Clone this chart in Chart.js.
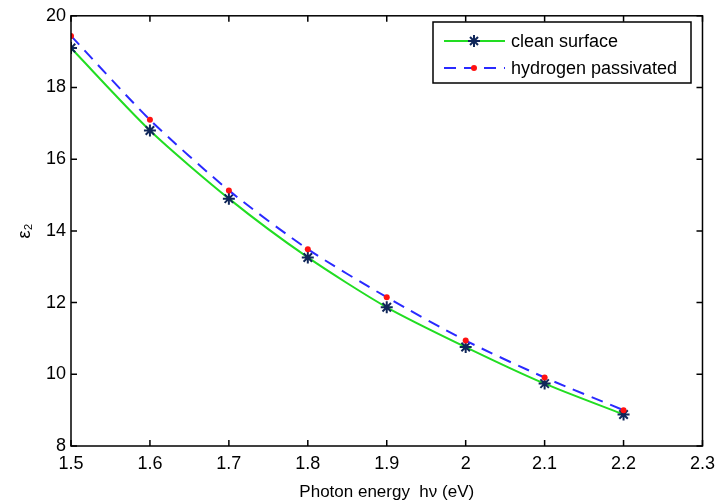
<!DOCTYPE html>
<html>
<head>
<meta charset="utf-8">
<script src="https://cdn.jsdelivr.net/npm/chart.js@4.4.1/dist/chart.umd.min.js"></script>
<style>
  html, body { margin: 0; padding: 0; background: #fff; }
  #wrap { width: 722px; height: 503px; }
</style>
</head>
<body>
<div id="wrap"><canvas id="chart" width="722" height="503"></canvas></div>
<script>
// photon energy (eV)
const energy = [1.5, 1.6, 1.7, 1.8, 1.9, 2.0, 2.1, 2.2];
// epsilon_2 values
const cleanSurface = [19.1, 16.8, 14.9, 13.26, 11.87, 10.76, 9.74, 8.88];
const hydrogenPassivated = [19.44, 17.1, 15.13, 13.49, 12.15, 10.94, 9.91, 9.0];
const xTicks = [1.5, 1.6, 1.7, 1.8, 1.9, 2.0, 2.1, 2.2, 2.3];
const yTicks = [8, 10, 12, 14, 16, 18, 20];

const FONT = 'Liberation Sans, Arial, sans-serif';
const STAR = '#10275a';

// box with inward ticks on all four sides + legend inside
const matlabFrame = {
  id: 'matlabFrame',
  afterDatasetsDraw(chart) {
    const { ctx, chartArea: a, scales } = chart;
    ctx.save();
    ctx.strokeStyle = '#000';
    ctx.lineWidth = 1.5;
    ctx.strokeRect(a.left, a.top, a.right - a.left, a.bottom - a.top);
    const len = 6;
    ctx.beginPath();
    xTicks.forEach(v => {
      const x = scales.x.getPixelForValue(v);
      ctx.moveTo(x, a.bottom); ctx.lineTo(x, a.bottom - len);
      ctx.moveTo(x, a.top); ctx.lineTo(x, a.top + len);
    });
    yTicks.forEach(v => {
      const y = scales.y.getPixelForValue(v);
      ctx.moveTo(a.left, y); ctx.lineTo(a.left + len, y);
      ctx.moveTo(a.right, y); ctx.lineTo(a.right - len, y);
    });
    ctx.stroke();

    // legend
    const bx = 433, by = 22, bw = 258, bh = 61;
    ctx.fillStyle = '#fff';
    ctx.fillRect(bx, by, bw, bh);
    ctx.lineWidth = 1.5;
    ctx.strokeRect(bx, by, bw, bh);
    ctx.font = '18px ' + FONT;
    ctx.textBaseline = 'middle';
    ctx.fillStyle = '#000';
    const rows = [
      { y: 41, label: 'clean surface' },
      { y: 68, label: 'hydrogen passivated' }
    ];
    // clean surface sample
    ctx.strokeStyle = '#22dd22';
    ctx.lineWidth = 2;
    ctx.setLineDash([]);
    ctx.beginPath(); ctx.moveTo(444, rows[0].y); ctx.lineTo(505, rows[0].y); ctx.stroke();
    ctx.strokeStyle = STAR;
    ctx.lineWidth = 2;
    ctx.beginPath();
    ctx.moveTo(474, rows[0].y - 6); ctx.lineTo(474, rows[0].y + 6);
    ctx.moveTo(468, rows[0].y); ctx.lineTo(480, rows[0].y);
    ctx.moveTo(470, rows[0].y - 4); ctx.lineTo(478, rows[0].y + 4);
    ctx.moveTo(470, rows[0].y + 4); ctx.lineTo(478, rows[0].y - 4);
    ctx.stroke();
    // hydrogen passivated sample
    ctx.strokeStyle = '#2a2aff';
    ctx.setLineDash([12, 8]);
    ctx.beginPath(); ctx.moveTo(444, rows[1].y); ctx.lineTo(505, rows[1].y); ctx.stroke();
    ctx.setLineDash([]);
    ctx.fillStyle = '#ff1111';
    ctx.beginPath(); ctx.arc(474, rows[1].y, 3, 0, Math.PI * 2); ctx.fill();
    ctx.fillStyle = '#000';
    rows.forEach(r => ctx.fillText(r.label, 511, r.y + 1));
    ctx.restore();
  }
};

new Chart(document.getElementById('chart').getContext('2d'), {
  type: 'line',
  data: {
    datasets: [
      {
        label: 'hydrogen passivated',
        data: energy.map((x, i) => ({ x, y: hydrogenPassivated[i] })),
        borderColor: '#2a2aff',
        borderWidth: 2,
        borderDash: [12, 8],
        pointStyle: 'circle',
        pointRadius: 3,
        pointBackgroundColor: '#ff1111',
        pointBorderColor: '#ff1111',
        pointBorderWidth: 0,
        tension: 0.25
      },
      {
        label: 'clean surface',
        data: energy.map((x, i) => ({ x, y: cleanSurface[i] })),
        borderColor: '#22dd22',
        borderWidth: 2,
        pointStyle: 'star',
        pointRadius: 6,
        pointBorderColor: STAR,
        pointBackgroundColor: STAR,
        pointBorderWidth: 2,
        tension: 0.25
      }
    ]
  },
  options: {
    responsive: false,
    animation: false,
    layout: { padding: { top: 14, right: 18, left: 0, bottom: 0 } },
    plugins: { legend: { display: false }, tooltip: { enabled: false } },
    scales: {
      x: {
        type: 'linear',
        min: 1.5,
        max: 2.3,
        afterBuildTicks: s => { s.ticks = xTicks.map(v => ({ value: v })); },
        afterFit: s => { s.height = 57; },
        grid: { display: false, drawTicks: false },
        border: { display: false },
        ticks: {
          padding: 7,
          color: '#000',
          font: { family: FONT, size: 18 },
          maxRotation: 0,
          callback: v => String(Number(v.toFixed(1)))
        },
        title: {
          display: true,
          text: 'Photon energy  hν (eV)',
          color: '#000',
          font: { family: FONT, size: 17 },
          padding: { top: 0, bottom: 0 }
        }
      },
      y: {
        min: 8,
        max: 20,
        afterBuildTicks: s => { s.ticks = yTicks.map(v => ({ value: v })); },
        afterFit: s => { s.width = 71; },
        grid: { display: false, drawTicks: false },
        border: { display: false },
        ticks: {
          padding: 5,
          color: '#000',
          font: { family: FONT, size: 18 }
        },
        title: {
          display: true,
          text: 'ε₂',
          color: '#000',
          font: { family: FONT, size: 18 },
          padding: { top: 14, bottom: 0 }
        }
      }
    }
  },
  plugins: [matlabFrame]
});
</script>
</body>
</html>
